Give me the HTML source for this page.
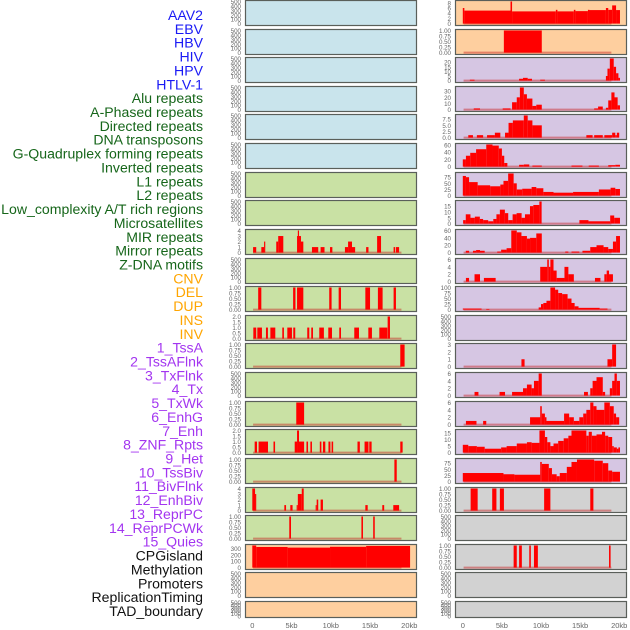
<!DOCTYPE html>
<html><head><meta charset="utf-8">
<style>
html,body{margin:0;padding:0;background:#fff;}
svg{display:block;font-family:"Liberation Sans",sans-serif;}
</style></head>
<body>
<svg id="chart" width="630" height="630" viewBox="0 0 630 630" xmlns="http://www.w3.org/2000/svg"></svg>
<script>
const labels = ["AAV2","EBV","HBV","HIV","HPV","HTLV-1","Alu repeats","A-Phased repeats","Directed repeats","DNA transposons","G-Quadruplex forming repeats","Inverted repeats","L1 repeats","L2 repeats","Low_complexity A/T rich regions","Microsatellites","MIR repeats","Mirror repeats","Z-DNA motifs","CNV","DEL","DUP","INS","INV","1_TssA","2_TssAFlnk","3_TxFlnk","4_Tx","5_TxWk","6_EnhG","7_Enh","8_ZNF_Rpts","9_Het","10_TssBiv","11_BivFlnk","12_EnhBiv","13_ReprPC","14_ReprPCWk","15_Quies","CPGisland","Methylation","Promoters","ReplicationTiming","TAD_boundary"];
const labelGroups = [6,13,5,15,5];
const groupColors = ["#1a1af5","#16661a","#ffa500","#a335f0","#111111"];
const xTicks = [0,5,10,15,20];
const xTickLabels = ["0","5kb","10kb","15kb","20kb"];

const E = ["0","100","200","300","400","500"];
const P1 = ["0.00","0.25","0.50","0.75","1.00"];
const leftTicks = [E,E,E,E,E,E,E,E,["0","1","2","3","4"],E,P1,["0.0","0.5","1.0","1.5","2.0"],P1,E,P1,["0.0","0.5","1.0","1.5","2.0"],P1,["0","1","2","3","4"],P1,["0","100","200","300"],E,E];
const leftSegs = [[],[],[],[],[],[],[],[],
 [[0.1,0.5,1],[1.15,1.5,1],[1.5,1.65,2],[3.05,3.3,2],[3.3,3.95,3],[5.7,5.8,3],[5.8,5.95,4],[5.95,6.2,3],[6.2,6.5,2],[7.6,8.4,1],[8.7,9.2,1],[9.9,10.2,1],[11.8,12.2,1],[12.2,12.7,2],[12.7,13.1,1],[14.5,14.8,1],[15.9,16.4,3],[18.0,18.2,1],[18.3,18.7,1]],
 [],
 [[0.75,1.15,1],[5.2,5.5,1],[5.7,6.5,1],[9.8,10.1,1],[11.0,11.3,1],[14.4,15.0,1],[16.0,16.6,1],[18.0,18.3,1]],
 [[0.13,0.5,1],[0.64,1.23,1],[1.74,1.99,1],[2.3,2.93,1],[3.82,4.03,1],[4.46,5.05,1],[5.22,5.47,1],[7.0,7.26,1],[7.51,7.73,1],[8.53,9.12,1],[9.68,10.15,1],[11.08,11.3,1],[12.99,13.59,1],[14.78,15.24,1],[16.18,17.2,1],[17.24,17.54,2]],
 [[18.85,19.4,1]],
 [],
 [[5.6,6.6,1]],
 [[0.3,0.6,1],[0.8,2.0,1],[2.7,2.9,1],[5.4,5.7,1],[5.7,5.95,2],[5.95,6.6,1],[6.9,7.1,1],[7.4,7.6,1],[8.6,8.8,1],[9.0,9.3,1],[9.7,9.95,1],[10.1,10.3,1],[13.4,13.7,1],[14.3,14.8,1],[14.9,15.2,1],[18.85,19.15,1]],
 [[18.1,18.4,1]],
 [[0,0.35,4],[0.35,0.5,3],[4.08,4.3,1],[4.84,5.13,1],[5.65,5.8,1],[5.8,6.3,3],[6.3,6.55,4],[8.07,8.2,1],[8.2,8.4,2],[8.7,9.0,2],[14.4,14.7,1],[16.56,16.8,1],[17.96,18.7,1]],
 [[4.71,4.93,1],[13.9,14.1,1],[15.4,15.6,1]],
 [[0,0.5,345],[0.5,4.5,322],[4.5,9.9,312],[9.9,14.5,325],[14.5,20.1,338]],
 [],[]];

const rightTicks = [["0","2","4","6","8"],P1,["0","5","10","15","20"],["0","10","20","30"],["0.0","2.5","5.0","7.5"],["0","20","40","60"],["0","25","50","75"],["0","5","10","15"],["0","20","40","60"],["0","2","4","6"],["0","25","50","75","100"],E,["0","1","2","3"],["0","2","4","6"],["0","2","4","6"],["0","5","10","15"],["0","25","50","75"],P1,E,P1,E,E];
const rightSegs = [
 [[0,0.2,6],[0.2,6.1,5],[6.1,6.3,8.5],[6.3,11.9,4.7],[11.9,12.1,5.3],[12.1,14.2,4.7],[14.2,14.4,5.3],[14.4,16.0,4.8],[16.0,16.2,5.3],[16.2,18.3,5.2],[18.3,18.6,6],[18.6,19.1,5.3],[19.1,19.6,7],[19.6,20.1,5.2]],
 [[5.25,10.1,1]],
 [[0.9,1.5,1],[7.2,7.7,2],[7.7,8.3,3],[8.3,8.85,2],[9.9,10.5,1],[18.3,18.5,5],[18.5,18.8,13],[18.8,19.3,24],[19.3,19.6,15],[19.6,19.9,8],[19.9,20.1,3]],
 [[1.4,2.2,2],[5.1,6.1,2],[6.3,6.9,12],[6.9,7.3,20],[7.3,7.8,36],[7.8,8.2,25],[8.2,8.9,18],[8.9,9.4,6],[9.4,10.1,8],[16.8,17.3,2],[17.3,17.9,5],[18.3,18.6,3],[18.6,19.0,15],[19.0,19.4,28],[19.4,19.8,20],[19.8,20.1,7]],
 [[0.7,1.3,1],[1.8,2.6,1],[3.1,4.1,1],[4.1,4.8,2],[5.4,5.85,2],[5.85,6.4,6],[6.4,7.8,7],[7.8,8.3,9],[8.3,8.9,7],[8.9,10.1,5],[15.8,16.6,1],[16.8,17.9,1],[18.1,19.1,1],[19.1,19.5,2],[19.5,19.7,1],[19.7,20.0,2]],
 [[0,0.4,20],[0.4,0.95,30],[0.95,1.7,38],[1.7,3.0,48],[3.0,3.8,61],[3.8,4.6,58],[4.6,5.0,50],[5.0,5.3,30],[5.3,5.7,10],[7.2,7.8,5],[7.8,8.5,6],[8.9,10.1,3],[13.9,15.3,3],[16.1,17.4,3],[18.6,19.5,4],[19.5,20.1,5]],
 [[0,0.4,80],[0.4,0.8,75],[0.8,1.9,55],[1.9,3.5,42],[3.5,4.8,38],[4.8,5.2,45],[5.2,5.8,60],[5.8,6.5,90],[6.5,6.9,50],[6.9,7.6,25],[7.6,8.8,28],[8.8,9.4,35],[9.4,10.3,30],[10.3,11.6,15],[11.6,14.1,12],[14.1,17.4,15],[17.4,18.9,25],[18.9,19.5,32],[19.5,20.1,27]],
 [[0.04,0.38,3],[0.38,0.98,8],[0.98,1.54,5],[1.54,2.18,6],[2.18,2.6,4],[2.6,3.25,3],[3.25,3.9,2],[3.9,4.3,4],[4.3,4.74,8],[4.74,5.38,12],[5.38,5.81,9],[5.81,6.37,3],[6.37,6.88,8],[6.88,7.52,9],[7.52,7.95,5],[7.95,8.59,8],[8.59,9.02,15],[9.02,9.79,16],[9.79,10.08,19],[14.91,16.07,3],[16.07,18.85,2],[18.85,19.36,7],[19.36,20.1,5]],
 [[0.38,0.81,5],[1.3,1.7,5],[1.7,2.2,7],[2.2,2.8,5],[4.4,4.9,3],[4.9,5.6,8],[5.6,6.2,12],[6.2,6.9,60],[6.9,7.5,55],[7.5,8.2,45],[8.2,8.6,38],[8.6,9.4,40],[9.4,10.1,52],[13.1,13.5,3],[13.9,14.9,3],[15.3,16.3,5],[16.3,17.1,15],[17.1,18.0,20],[18.0,18.6,15],[18.6,19.2,10],[19.2,19.6,30],[19.6,20.1,45]],
 [[0.4,0.8,1],[1.5,2.2,2],[2.7,4.2,1],[9.9,10.8,4],[10.8,11.0,6],[11.0,11.2,4],[11.2,11.6,6],[11.6,12.0,3],[12.0,13.0,1],[13.0,13.5,4],[13.5,14.2,2],[16.9,17.6,1],[18.1,18.4,2],[18.4,18.7,3],[18.7,19.2,2]],
 [[0,2.4,5],[3.0,3.4,3],[9.7,10.0,10],[10.0,10.3,25],[10.3,10.7,30],[10.7,11.2,40],[11.2,11.8,100],[11.8,12.2,90],[12.2,12.7,75],[12.7,13.4,70],[13.4,13.9,50],[13.9,14.3,30],[14.3,14.8,15],[14.8,17.5,8],[17.5,18.5,5]],
 [],
 [[7.5,7.9,1],[18.5,19.1,1],[19.1,19.6,3]],
 [[1.5,2.0,1],[4.7,5.4,1],[6.3,7.7,1],[7.7,8.2,2],[8.2,8.8,3],[8.8,9.1,2],[9.1,9.7,4],[9.7,10.1,6],[15.5,16.0,1],[16.3,16.6,2],[16.6,17.1,4],[17.1,17.9,5],[17.9,18.2,1],[18.8,19.1,2],[19.1,19.4,4],[19.4,19.7,6],[19.7,20.1,4]],
 [[0.4,1.75,1],[2.6,3.0,1],[8.6,9.9,2],[9.9,10.1,5],[10.1,10.5,3],[10.5,10.7,2],[10.7,12.95,1],[12.95,13.6,3],[13.6,14.2,2],[14.2,14.9,1],[14.9,15.4,2],[15.4,15.8,3],[15.8,16.3,4],[16.3,16.7,6],[16.7,17.1,5],[17.1,18.1,4],[18.1,18.8,6],[18.8,19.3,5],[19.3,19.6,3],[19.6,20.0,2]],
 [[0,0.7,6],[0.7,1.8,5],[1.8,2.8,4.5],[2.8,4.9,3],[4.9,5.6,4],[5.6,6.9,5],[6.9,8.2,7],[8.2,8.8,8],[8.8,9.8,7.5],[9.8,10.5,17],[10.5,10.8,12],[10.8,11.2,8],[11.2,11.6,5],[11.6,12.2,7],[12.2,12.9,9],[12.9,13.5,11],[13.5,13.9,13],[13.9,15.8,17],[15.8,16.1,13],[16.1,16.5,16],[16.5,17.1,13],[17.1,17.8,14],[17.8,18.2,16],[18.2,18.6,13],[18.6,19.1,12],[19.1,19.3,5],[19.3,19.7,4],[19.7,19.9,3],[19.9,20.1,4]],
 [[0,5.2,35],[5.2,6.6,30],[6.6,9.9,28],[9.9,10.1,80],[10.1,11.0,72],[11.0,11.4,55],[11.4,12.0,30],[12.0,12.4,22],[12.4,13.3,35],[13.3,13.9,60],[13.9,14.6,80],[14.6,16.8,90],[16.8,17.9,85],[17.9,18.6,75],[18.6,19.1,45],[19.1,20.1,40]],
 [[1.0,1.9,1],[3.76,4.3,1],[4.74,5.26,1],[10.4,11.2,1],[16.3,16.7,1]],
 [],
 [[6.5,6.9,1],[7.2,7.55,1],[8.5,8.7,1],[9.1,9.6,1],[18.7,18.9,1]],
 [],[]];

const leftFill = ["b","b","b","b","b","b","g","g","g","g","g","g","g","g","g","g","g","g","g","o","o","o"];
const rightFill = ["o","o","p","p","p","p","p","p","p","p","p","p","p","p","p","p","p","r","r","r","r","r"];
const fillColors = {b:"#c9e4ec",g:"#c9e1a4",o:"#fecf9f",p:"#d6c6e3",r:"#d2d2d2"};

const svg = document.getElementById('chart');
const NS = "http://www.w3.org/2000/svg";
function mk(tag, attrs){const e=document.createElementNS(NS,tag);for(const k in attrs)e.setAttribute(k,attrs[k]);svg.appendChild(e);return e;}

let gi=0, cnt=0;
labels.forEach((t,i)=>{
  while(cnt>=labelGroups[gi]){cnt-=labelGroups[gi];gi++;}
  cnt++;
  const el=mk('text',{x:203,y:15+i*13.86,'text-anchor':'end','dominant-baseline':'central','font-size':'14.1',fill:groupColors[gi]});
  el.textContent=t;
  
  
});

function rowTop(i){return Math.round(i*28.62);}
function rowH(i){return i===21?16:25;}
const cols=[{x0:245,x1:416,z:252.3,k:7.85,tickX:241},{x0:455,x1:626,z:462.8,k:7.82,tickX:451}];
function xs(col,kb){return cols[col].z+cols[col].k*kb;}

function drawPanel(col,i,segs,ticks,fillKey){
  const c=cols[col];const top=rowTop(i)+0.5, h=rowH(i);
  const bot=top+h;
  const tv=ticks.map(parseFloat);
  let vmax=Math.max(...tv);
  segs.forEach(s=>{if(s[2]>vmax)vmax=s[2];});
  const vmin=-0.04*vmax;
  const ys=v=>bot-1-(v-vmin)/(vmax-vmin)*(h-2);
  const r=mk('rect',{x:c.x0+0.5,y:top,width:c.x1-c.x0,height:h,fill:fillColors[fillKey],stroke:"#5a5f5a",'stroke-width':1.2});
  
  
  if(segs.length){
    const bl=mk('rect',{x:xs(col,0.1),y:ys(0)-1,width:xs(col,19)-xs(col,0.1),height:2,fill:"rgba(200,30,30,0.45)"});
    
    
  }
  segs.forEach(s=>{
    const y=ys(s[2]);
    const b=mk('rect',{x:xs(col,s[0]),y:Math.max(y,top+0.6),width:Math.max(xs(col,s[1])-xs(col,s[0]),1),height:ys(0)-Math.max(y,top+0.6),fill:"#ff0000"});
    
    
  });
  ticks.forEach((t,j)=>{
    const el=mk('text',{x:c.tickX,y:ys(tv[j])+2.5,'text-anchor':'end','font-size':'6.2',fill:"#666"});
    el.textContent=t;
    
    
  });
}
for(let i=0;i<22;i++){
  drawPanel(0,i,leftSegs[i],leftTicks[i],leftFill[i]);
  drawPanel(1,i,rightSegs[i],rightTicks[i],rightFill[i]);
}
[0,1].forEach(col=>{
  xTicks.forEach((v,j)=>{
    const el=mk('text',{x:xs(col,v),y:628,'text-anchor':'middle','font-size':'7.5',fill:"#666"});
    el.textContent=xTickLabels[j];
    
    
  });
});
</script>
</body></html>
